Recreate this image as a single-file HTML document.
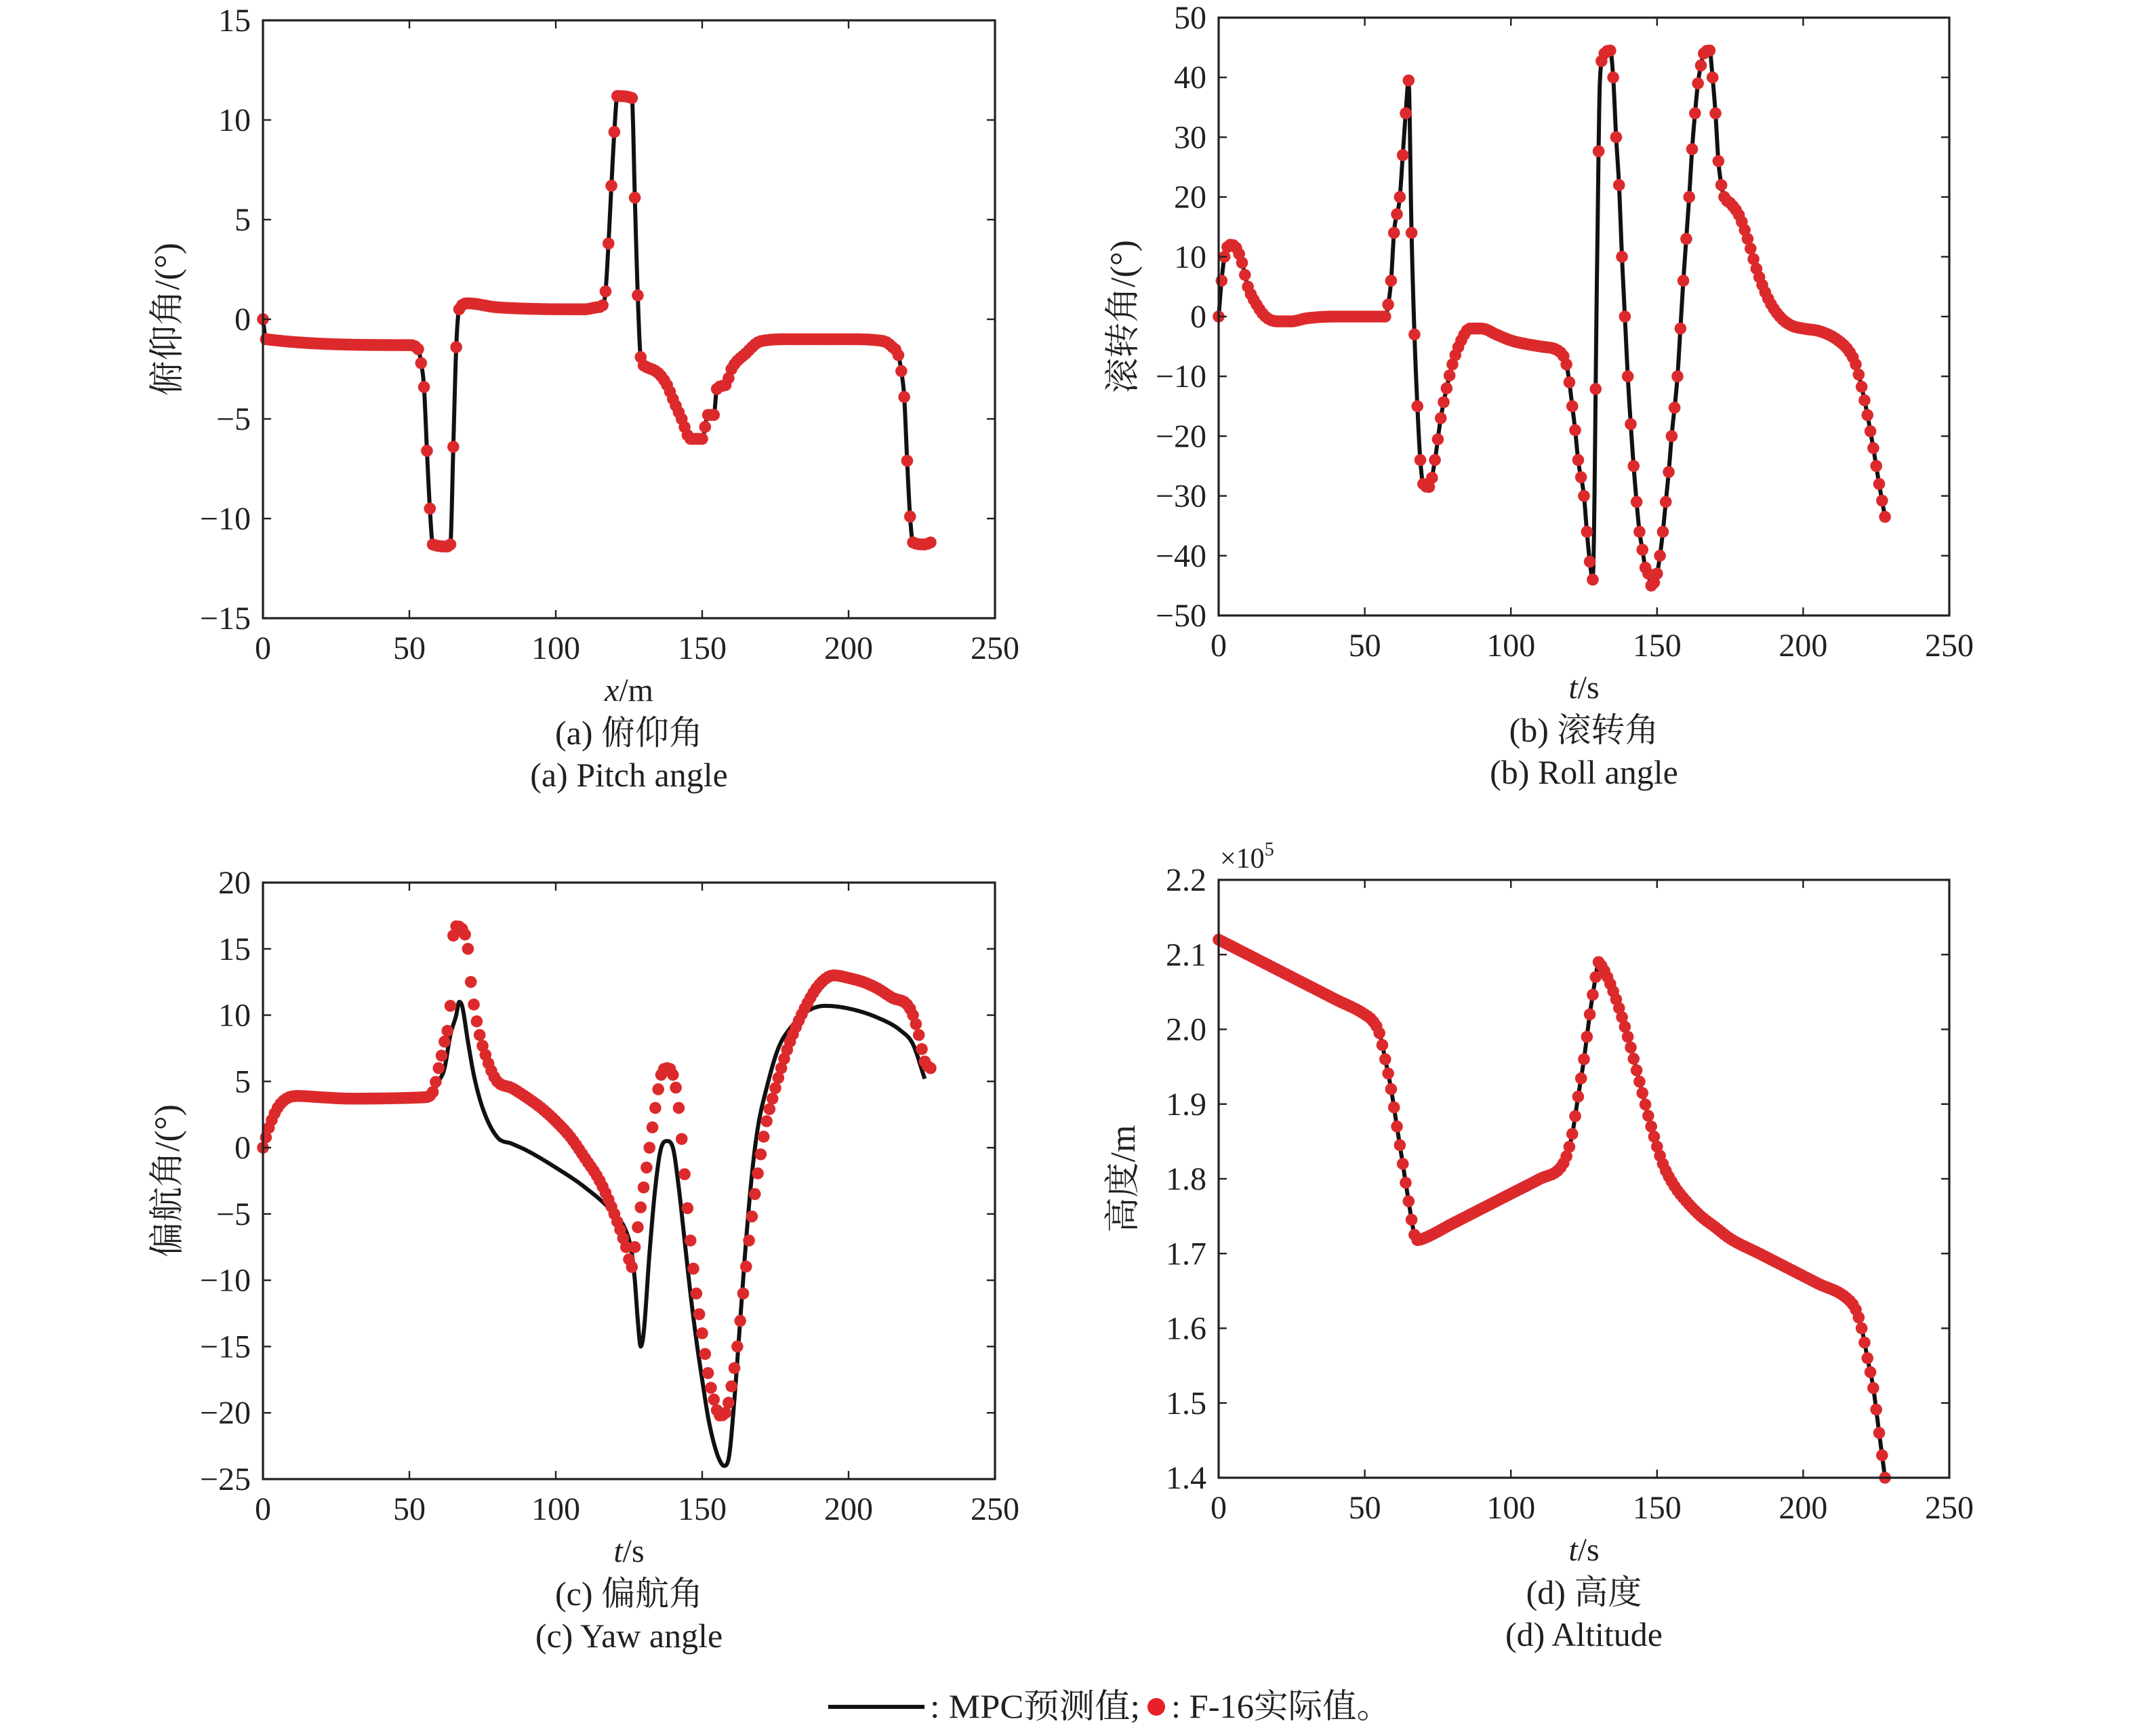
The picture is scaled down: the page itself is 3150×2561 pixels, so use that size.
<!DOCTYPE html>
<html><head><meta charset="utf-8">
<style>html,body{margin:0;padding:0;background:#fff;}svg{display:block;}
text{font-family:"Liberation Serif","Noto Serif CJK SC",serif;fill:#231f20;}</style></head>
<body>
<svg id="s" width="3150" height="2561" viewBox="0 0 1575 1280.5" xmlns="http://www.w3.org/2000/svg"></svg>
<script>
const S=document.getElementById('s');let h='';
function mono(k){const n=k.length,d=[],m=[];for(let i=0;i<n-1;i++)d.push((k[i+1][1]-k[i][1])/(k[i+1][0]-k[i][0]));
 m[0]=d[0];m[n-1]=d[n-2];for(let i=1;i<n-1;i++){m[i]=(d[i-1]*d[i]<=0)?0:(d[i-1]+d[i])/2;}
 for(let i=0;i<n-1;i++){if(d[i]===0){m[i]=0;m[i+1]=0;continue;}const a=m[i]/d[i],b=m[i+1]/d[i],s=a*a+b*b;if(s>9){const t=3/Math.sqrt(s);m[i]=t*a*d[i];m[i+1]=t*b*d[i];}}
 return x=>{let i=0;while(i<n-2&&x>k[i+1][0])i++;const hh=k[i+1][0]-k[i][0],t=Math.min(1,Math.max(0,(x-k[i][0])/hh));const t2=t*t,t3=t2*t;
 return (2*t3-3*t2+1)*k[i][1]+(t3-2*t2+t)*hh*m[i]+(-2*t3+3*t2)*k[i+1][1]+(t3-t2)*hh*m[i+1];};}
function plot(P){
 const {x0,x1,y0,y1,ymin,ymax}=P;
 const X=v=>x0+(v/250)*(x1-x0), Y=v=>y1-(v-ymin)/(ymax-ymin)*(y1-y0);
 function series(k){const f=mono(k);let d='';const end=k[k.length-1][0];for(let x=k[0][0];x<=end+1e-6;x+=0.2){d+=(d?'L':'M')+X(x).toFixed(2)+','+Y(f(x)).toFixed(2);}return d;}
 h+=`<path d="${series(P.line)}" fill="none" stroke="#111" stroke-width="3" stroke-linejoin="round"/>`;
 const dk=P.dots, end=dk[dk.length-1][0], f=mono(dk);
 for(let x=dk[0][0];x<=end+1e-6;x+=1){h+=`<circle cx="${X(x).toFixed(2)}" cy="${Y(f(x)).toFixed(2)}" r="4.4" fill="#dc2a2c"/>`;}
 h+=`<rect x="${x0}" y="${y0}" width="${x1-x0}" height="${y1-y0}" fill="none" stroke="#231f20" stroke-width="1.6"/>`;
 for(let v=0;v<=250;v+=50){const xx=X(v);h+=`<line x1="${xx}" y1="${y1}" x2="${xx}" y2="${y1-6}" stroke="#231f20" stroke-width="1.2"/><line x1="${xx}" y1="${y0}" x2="${xx}" y2="${y0+6}" stroke="#231f20" stroke-width="1.2"/>`;
  h+=`<text x="${xx}" y="${y1+30}" font-size="24" text-anchor="middle">${v}</text>`;}
 for(const v of P.yt){const yy=Y(v);h+=`<line x1="${x0}" y1="${yy}" x2="${x0+6}" y2="${yy}" stroke="#231f20" stroke-width="1.2"/><line x1="${x1}" y1="${yy}" x2="${x1-6}" y2="${yy}" stroke="#231f20" stroke-width="1.2"/>`;
  const lab=P.fmt?P.fmt(v):(v<0?'\u2212'+(-v):''+v);
  h+=`<text x="${x0-9}" y="${yy+8}" font-size="24" text-anchor="end">${lab}</text>`;}
 const cx=(x0+x1)/2;
 h+=`<text x="${cx}" y="${y1+61}" font-size="24" text-anchor="middle"><tspan font-style="italic">${P.xl[0]}</tspan>/${P.xl[1]}</text>`;
 h+=`<text x="${cx}" y="${y1+93}" font-size="25" text-anchor="middle">${P.c1}</text>`;
 h+=`<text x="${cx}" y="${y1+124}" font-size="25" text-anchor="middle">${P.c2}</text>`;
 const ly=(y0+y1)/2;
 h+=`<text x="0" y="0" font-size="26" text-anchor="middle" transform="translate(${x0-62},${ly}) rotate(-90)">${P.yl}</text>`;
}
const A=[[0,0],[1,-1],[50,-1.3],[53,-1.5],[54,-2.2],[55,-3.4],[56,-6.6],[57,-9.5],[58,-11.3],[63,-11.4],[64,-11.3],[65,-6.4],[66,-1.4],[67,0.5],[70,0.8],[80,0.6],[110,0.5],[114,0.6],[116,0.7],[117,1.4],[118,3.8],[119,6.7],[120,9.4],[121,11.2],[126,11.1],[127,6.1],[128,1.2],[129,-1.9],[131,-2.4],[135,-2.7],[138,-3.3],[140,-4],[143,-5],[146,-6],[150,-6],[152,-4.8],[154,-4.8],[155,-3.5],[158,-3.3],[160,-2.5],[165,-1.7],[170,-1.1],[180,-1],[200,-1],[212,-1.1],[215,-1.4],[217,-1.8],[218,-2.6],[219,-3.9],[220,-7.1],[221,-9.9],[222,-11.2],[226,-11.3],[228,-11.2]];
plot({x0:194,x1:734,y0:15,y1:456,ymin:-15,ymax:15,yt:[-15,-10,-5,0,5,10,15],line:A,dots:A,xl:['x','m'],c1:'(a) 俯仰角',c2:'(a) Pitch angle',yl:'俯仰角/(°)'});
const B=[[0,0],[1,6],[2,10],[4,12],[6,11.5],[8,9],[10,5],[13,2],[16,0],[20,-0.8],[25,-0.8],[30,-0.3],[40,0],[57,0],[58,2],[59,6],[60,14],[62,20],[63,27],[64,34],[65,39.5],[66,14],[67,-3],[68,-15],[69,-24],[70,-28],[72,-28.5],[74,-24],[76,-17],[78,-12],[80,-8],[83,-4],[86,-2],[90,-2],[95,-3],[100,-4],[110,-5],[117,-6],[119,-8],[120,-11],[121,-15],[122,-19],[123,-24],[125,-30],[126,-36],[127,-41],[128,-44],[129.5,9],[130.5,40],[132,44],[134,44.5],[135,40],[136,30],[137,22],[138,10],[139,0],[140,-10],[141,-18],[142,-25],[143,-31],[144,-36],[145,-39],[146,-42],[147,-43],[148,-45],[150,-43],[151,-40],[152,-36],[153,-31],[154,-26],[155,-20],[157,-10],[158,-2],[159,6],[160,13],[161,20],[162,28],[163,34],[164,39],[165,42],[166,44],[168,44.5],[169,40],[170,34],[171,26],[172,22],[173,20],[175,19],[178,17],[181,13],[184,8],[188,3],[192,0],[196,-1.5],[200,-2],[206,-2.5],[212,-4],[216,-6],[218,-8],[221,-14],[224,-22],[226,-28],[228,-33.5]];
plot({x0:899,x1:1438,y0:13,y1:454,ymin:-50,ymax:50,yt:[-50,-40,-30,-20,-10,0,10,20,30,40,50],line:B,dots:B,xl:['t','s'],c1:'(b) 滚转角',c2:'(b) Roll angle',yl:'滚转角/(°)'});
const Cd=[[0,0],[2,1.5],[5,3],[8,3.7],[12,3.9],[20,3.8],[30,3.7],[55,3.8],[58,4.2],[60,6],[62,8],[64,10.7],[65,16],[66,16.7],[68,16.5],[70,15],[71,12.5],[72,10.8],[74,8.5],[76,7],[78,5.8],[80,5],[85,4.5],[90,3.8],[95,3],[100,2],[105,0.8],[110,-0.8],[115,-2.5],[120,-5],[124,-7.5],[126,-9],[127,-7.5],[128,-6],[130,-3],[132,0],[134,3],[136,5.5],[138,6],[140,5.5],[142,3],[144,-2],[146,-7],[148,-11],[150,-14],[152,-17],[154,-19],[156,-20.2],[158,-20],[160,-18],[162,-15],[164,-11],[166,-7],[168,-3.5],[170,-0.5],[172,2],[174,3.7],[177,6],[180,8],[185,10.5],[190,12.3],[195,13],[200,12.8],[205,12.5],[210,12],[215,11.3],[220,10.8],[222,10],[224,8.5],[226,6.5],[228,6]];
const Cl=[[0,0],[2,1.5],[5,3],[8,3.7],[12,3.9],[20,3.8],[30,3.7],[55,3.8],[58,4.2],[60,5],[62,6],[64,8.5],[66,10],[67,11],[68,10.7],[70,8],[72,5.5],[75,3],[80,0.8],[85,0.3],[90,-0.2],[100,-1.5],[110,-3],[120,-5],[124,-6.3],[126,-8],[127,-10],[128,-13],[129,-15],[130,-14],[132,-8],[134,-3],[136,0],[138,0.5],[140,0],[142,-3],[144,-7],[146,-11],[148,-14.5],[150,-17.5],[152,-20.3],[154,-22.3],[156,-23.6],[157.5,-24],[159,-23.5],[161,-19],[163,-13],[165,-7],[167,-2],[169,1.5],[172,4.5],[176,7.5],[180,9],[186,10.3],[192,10.7],[200,10.5],[210,9.8],[218,8.8],[222,7.8],[226,5.2]];
plot({x0:194,x1:734,y0:651,y1:1091,ymin:-25,ymax:20,yt:[-25,-20,-15,-10,-5,0,5,10,15,20],line:Cl,dots:Cd,xl:['t','s'],c1:'(c) 偏航角',c2:'(c) Yaw angle',yl:'偏航角/(°)'});
const D=[[0,2.12],[10,2.1],[20,2.08],[30,2.06],[40,2.04],[50,2.02],[53,2.01],[55,1.995],[57,1.96],[59,1.92],[61,1.87],[63,1.82],[65,1.77],[67,1.725],[68,1.718],[70,1.72],[80,1.74],[90,1.76],[100,1.78],[110,1.80],[117,1.815],[119,1.83],[121,1.86],[123,1.91],[125,1.96],[127,2.02],[129,2.07],[130,2.09],[131,2.085],[133,2.07],[136,2.04],[140,1.99],[144,1.93],[148,1.87],[152,1.82],[156,1.79],[160,1.77],[165,1.75],[170,1.735],[175,1.72],[185,1.70],[195,1.68],[205,1.66],[215,1.64],[218,1.625],[220,1.6],[222,1.56],[224,1.52],[226,1.46],[228,1.4]];
plot({x0:899,x1:1438,y0:649,y1:1090,ymin:1.4,ymax:2.2,yt:[1.4,1.5,1.6,1.7,1.8,1.9,2.0,2.1,2.2],fmt:v=>v.toFixed(1),line:D,dots:D,xl:['t','s'],c1:'(d) 高度',c2:'(d) Altitude',yl:'高度/m'});
h+=`<text x="900" y="640" font-size="21">×10<tspan font-size="14" dy="-9">5</tspan></text>`;
h+=`<line x1="611" y1="1259" x2="682" y2="1259" stroke="#111" stroke-width="3"/>`;
h+=`<text x="686" y="1267" font-size="25" textLength="155" lengthAdjust="spacingAndGlyphs">: MPC预测值;</text>`;
h+=`<circle cx="853" cy="1259" r="6.5" fill="#e8202a"/>`;
h+=`<text x="864" y="1267" font-size="25" textLength="162" lengthAdjust="spacingAndGlyphs">: F-16实际值。</text>`;
S.innerHTML=h;
</script>
</body></html>
